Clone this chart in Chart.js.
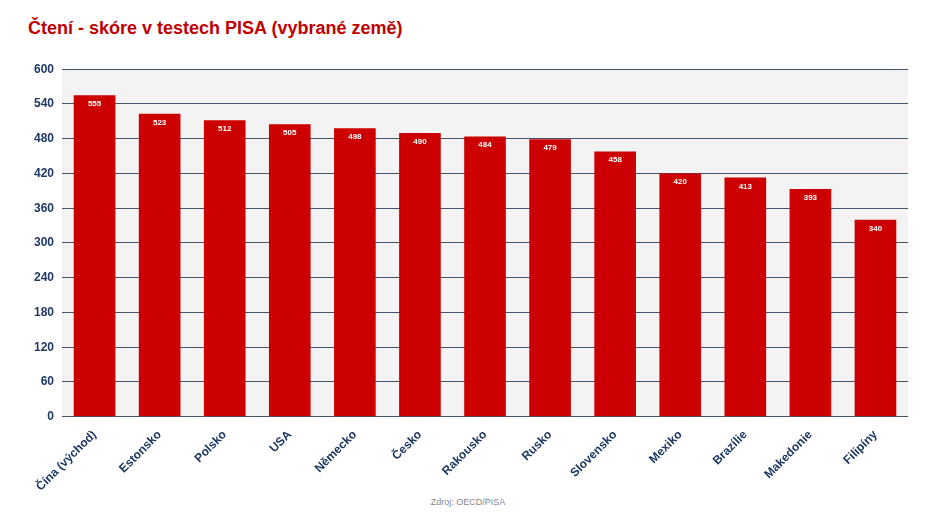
<!DOCTYPE html>
<html>
<head>
<meta charset="utf-8">
<script src="https://cdn.jsdelivr.net/npm/chart.js@4"></script>
<style>
  body { margin: 0; background: #fff; font-family: Arial, "Liberation Sans", sans-serif; }
  #title { position: absolute; left: 28px; top: 18px; font-size: 18px; font-weight: bold; color: #c00000; }
  #source { position: absolute; left: 0; width: 936px; top: 497px; text-align: center; font-size: 9px; color: #888; }
  .wrap { position: absolute; left: 26px; top: 54px; width: 882px; height: 443px; }
</style>
</head>
<body>
<div id="title">Čtení - skóre v testech PISA (vybrané země)</div>
<div class="wrap"><canvas id="chart"></canvas></div>
<div id="source">Zdroj: OECD/PISA</div>
<script>
const countries = ['Čína (východ)', 'Estonsko', 'Polsko', 'USA', 'Německo', 'Česko', 'Rakousko', 'Rusko', 'Slovensko', 'Mexiko', 'Brazílie', 'Makedonie', 'Filipíny'];
const scores = [555, 523, 512, 505, 498, 490, 484, 479, 458, 420, 413, 393, 340];

const plotBg = {
    id: 'plotBg',
    beforeDraw(chart) {
        const { ctx, chartArea: a } = chart;
        ctx.save();
        ctx.fillStyle = '#f3f3f3';
        ctx.fillRect(a.left, a.top, a.right - a.left, a.bottom - a.top);
        ctx.restore();
    }
};

const valueLabels = {
    id: 'valueLabels',
    afterDatasetsDraw(chart) {
        const { ctx } = chart;
        ctx.save();
        ctx.fillStyle = '#fff';
        ctx.font = 'bold 8px Arial';
        ctx.textAlign = 'center';
        chart.getDatasetMeta(0).data.forEach((bar, i) => {
            ctx.fillText(scores[i], bar.x, bar.y + 11);
        });
        ctx.restore();
    }
};

new Chart(document.getElementById('chart'), {
    type: 'bar',
    data: {
        labels: countries,
        datasets: [{ data: scores, backgroundColor: '#cc0000', barPercentage: 0.64, categoryPercentage: 1 }]
    },
    options: {
        responsive: true,
        maintainAspectRatio: false,
        animation: false,
        layout: { padding: { top: 6 } },
        plugins: { legend: { display: false }, tooltip: { enabled: false } },
        scales: {
            y: {
                min: 0, max: 600,
                ticks: { stepSize: 60, color: '#1f3864', font: { size: 12, weight: 'bold' }, padding: 8 },
                grid: { color: '#44546a', drawTicks: false },
                border: { display: false }
            },
            x: {
                ticks: { color: '#1f3864', font: { size: 12, weight: 'bold' }, minRotation: 45, maxRotation: 45 },
                grid: { display: false },
                border: { display: false }
            }
        }
    },
    plugins: [plotBg, valueLabels]
});
</script>
</body>
</html>
